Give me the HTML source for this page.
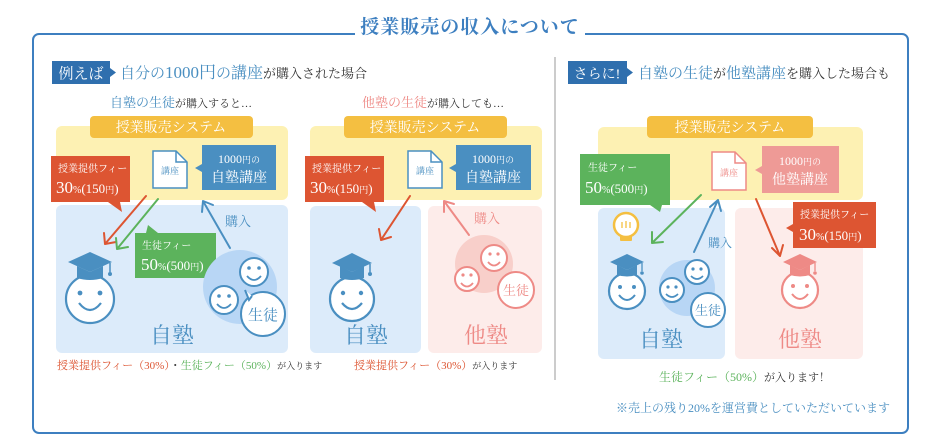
<!DOCTYPE html>
<html><head><meta charset="utf-8"><style>
html,body{margin:0;padding:0;background:#fff;}
svg{display:block;}
text{font-family:"Liberation Serif","Noto Serif CJK SC",serif;}
</style></head><body>
<svg width="940" height="447" viewBox="0 0 940 447" xmlns="http://www.w3.org/2000/svg">
<!-- outer frame -->
<rect x="33" y="34" width="875" height="399" rx="6" fill="#fff" stroke="#3d7fc0" stroke-width="2"/>
<rect x="355" y="14" width="230" height="26" fill="#fff"/>
<text x="470" y="33" text-anchor="middle" font-size="19" font-weight="bold" fill="#3d7fc0" letter-spacing="1">授業販売の収入について</text>
<line x1="555" y1="57" x2="555" y2="380" stroke="#999" stroke-width="1"/>

<!-- header left -->
<path d="M52 61 H110 V68 L116 72.5 L110 77 V84 H52 Z" fill="#2f6fae"/>
<text x="81" y="78.5" text-anchor="middle" font-size="15" fill="#fff">例えば</text>
<text x="120" y="78" font-size="15" fill="#4a8fc1">自分の<tspan font-size="17">1000円</tspan>の<tspan font-size="16">講座</tspan><tspan fill="#333" font-size="13">が購入された場合</tspan></text>
<text x="110" y="107" font-size="13" fill="#4a8fc1">自塾の生徒<tspan fill="#333" font-size="11">が購入すると…</tspan></text>
<text x="362" y="107" font-size="13" fill="#ee8a86">他塾の生徒<tspan fill="#333" font-size="11">が購入しても…</tspan></text>

<!-- header right -->
<path d="M568 61 H627 V68 L633 72.5 L627 77 V84 H568 Z" fill="#2f6fae"/>
<text x="597" y="78.5" text-anchor="middle" font-size="14" fill="#fff">さらに!</text>
<text x="638" y="78" font-size="15" fill="#4a8fc1">自塾の生徒<tspan fill="#333" font-size="13">が</tspan>他塾講座<tspan fill="#333" font-size="13">を購入した場合も</tspan></text>

<!-- ============ PANEL 1 ============ -->
<rect x="56" y="126" width="232" height="74" rx="6" fill="#fdf1b3"/>
<rect x="56" y="205" width="232" height="148" rx="6" fill="#dcebfa"/>
<rect x="90" y="116" width="163" height="22" rx="4" fill="#f4bf41"/>
<text x="171" y="132" text-anchor="middle" font-size="14" fill="#fff">授業販売システム</text>
<path d="M153 151 H176 L187 162 V188 H153 Z" fill="#fff" stroke="#4a8fc1" stroke-width="1.5"/>
<path d="M176 151 V162 H187" fill="none" stroke="#4a8fc1" stroke-width="1.5"/>
<text x="170" y="174" text-anchor="middle" font-size="9" fill="#4a8fc1">講座</text>
<path d="M202 145 H276 V190 H202 V172 L195 168 L202 164 Z" fill="#4a8fc1"/>
<text x="239" y="163" text-anchor="middle" font-size="12" fill="#fff">1000<tspan font-size="9">円の</tspan></text>
<text x="239" y="182" text-anchor="middle" font-size="14" fill="#fff">自塾講座</text>
<path d="M51 156 H130 V202 H120 L122 212 L108 202 H51 Z" fill="#dd5532"/>
<text x="58" y="172" font-size="10" fill="#fff">授業提供フィー</text>
<text x="56" y="193" font-size="17" fill="#fff">30<tspan font-size="10">%</tspan><tspan font-size="13">(150</tspan><tspan font-size="9">円</tspan><tspan font-size="13">)</tspan></text>
<g fill="none" stroke-width="2" stroke-linecap="round" stroke-linejoin="round">
<path d="M146 196 L105 244 M104 233 L105 244 L116 242" stroke="#dd5532"/>
<path d="M158 199 L117 249 M116 238 L117 249 L128 247" stroke="#5cb35c"/>
<path d="M230 248 L203 201 M202 212 L203 201 L213 205" stroke="#4a8fc1"/>
</g>
<text x="225" y="226" font-size="13" fill="#4a8fc1">購入</text>
<path d="M135 233 H146 L148 225 L158 233 H216 V278 H135 Z" fill="#5cb35c"/>
<text x="142" y="249" font-size="10" fill="#fff">生徒フィー</text>
<text x="141" y="270" font-size="17" fill="#fff">50<tspan font-size="10">%</tspan><tspan font-size="13">(500</tspan><tspan font-size="9">円</tspan><tspan font-size="13">)</tspan></text>
<circle cx="90" cy="299" r="24" fill="#fff" stroke="#4a8fc1" stroke-width="2.2"/>
<path d="M68 262 L90 252 L112 262 L90 272 Z" fill="#4a8fc1"/>
<path d="M77 266 V278 Q90 282 103 278 V266 L90 272 Z" fill="#4a8fc1"/>
<path d="M110 263 V272" stroke="#4a8fc1" stroke-width="1.5"/><circle cx="110" cy="274" r="2" fill="#4a8fc1"/>
<circle cx="80" cy="293" r="2.4" fill="#4a8fc1"/><circle cx="100" cy="293" r="2.4" fill="#4a8fc1"/>
<path d="M79 303 Q90 317 101 303" fill="none" stroke="#4a8fc1" stroke-width="2.2"/>
<circle cx="240" cy="287" r="37" fill="#b8d6f5"/>
<g stroke="#4a8fc1" stroke-width="2" fill="#fff">
<circle cx="254" cy="272" r="14"/>
<circle cx="224" cy="300" r="14"/>
<circle cx="263" cy="314" r="22"/>
<path d="M245 290 L249 300 L252 296" />
</g>
<g fill="#4a8fc1"><circle cx="249" cy="268" r="1.8"/><circle cx="259" cy="268" r="1.8"/><circle cx="219" cy="296" r="1.8"/><circle cx="229" cy="296" r="1.8"/></g>
<g fill="none" stroke="#4a8fc1" stroke-width="1.8"><path d="M247 276 Q254 284 261 276"/><path d="M217 304 Q224 312 231 304"/></g>
<text x="263" y="320" text-anchor="middle" font-size="15" fill="#4a8fc1">生徒</text>
<text x="172" y="343" text-anchor="middle" font-size="22" fill="#4a8fc1">自塾</text>
<text x="57" y="369" font-size="11" fill="#dd5532">授業提供フィー（30%）<tspan fill="#333">・</tspan><tspan fill="#5cb35c">生徒フィー（50%）</tspan><tspan fill="#333" font-size="9">が入ります</tspan></text>

<!-- ============ PANEL 2 ============ -->
<rect x="310" y="126" width="232" height="74" rx="6" fill="#fdf1b3"/>
<rect x="310" y="206" width="111" height="147" rx="6" fill="#dcebfa"/>
<rect x="428" y="206" width="114" height="147" rx="6" fill="#fdecea"/>
<rect x="344" y="116" width="163" height="22" rx="4" fill="#f4bf41"/>
<text x="425" y="132" text-anchor="middle" font-size="14" fill="#fff">授業販売システム</text>
<path d="M408 151 H431 L442 162 V188 H408 Z" fill="#fff" stroke="#4a8fc1" stroke-width="1.5"/>
<path d="M431 151 V162 H442" fill="none" stroke="#4a8fc1" stroke-width="1.5"/>
<text x="425" y="174" text-anchor="middle" font-size="9" fill="#4a8fc1">講座</text>
<path d="M456 145 H531 V190 H456 V172 L449 168 L456 164 Z" fill="#4a8fc1"/>
<text x="493" y="163" text-anchor="middle" font-size="12" fill="#fff">1000<tspan font-size="9">円の</tspan></text>
<text x="493" y="182" text-anchor="middle" font-size="14" fill="#fff">自塾講座</text>
<path d="M305 156 H384 V202 H374 L376 212 L362 202 H305 Z" fill="#dd5532"/>
<text x="312" y="172" font-size="10" fill="#fff">授業提供フィー</text>
<text x="310" y="193" font-size="17" fill="#fff">30<tspan font-size="10">%</tspan><tspan font-size="13">(150</tspan><tspan font-size="9">円</tspan><tspan font-size="13">)</tspan></text>
<g fill="none" stroke-width="2" stroke-linecap="round" stroke-linejoin="round">
<path d="M410 196 L381 240 M379 229 L381 240 L391 237" stroke="#dd5532"/>
<path d="M469 235 L444 201 M444 212 L444 201 L454 204" stroke="#ee8a86"/>
</g>
<text x="474" y="223" font-size="13" fill="#ee8a86">購入</text>
<circle cx="352" cy="299" r="22" fill="#fff" stroke="#4a8fc1" stroke-width="2.2"/>
<path d="M332 263 L352 253 L372 263 L352 272 Z" fill="#4a8fc1"/>
<path d="M340 266 V278 Q352 282 364 278 V266 L352 272 Z" fill="#4a8fc1"/>
<path d="M370 264 V272" stroke="#4a8fc1" stroke-width="1.5"/><circle cx="370" cy="274" r="2" fill="#4a8fc1"/>
<circle cx="343" cy="293" r="2.2" fill="#4a8fc1"/><circle cx="361" cy="293" r="2.2" fill="#4a8fc1"/>
<path d="M342 303 Q352 315 362 303" fill="none" stroke="#4a8fc1" stroke-width="2.2"/>
<circle cx="484" cy="264" r="29" fill="#f8cfca"/>
<g stroke="#ee8a86" stroke-width="2" fill="#fff">
<circle cx="494" cy="258" r="13"/>
<circle cx="467" cy="279" r="12"/>
<circle cx="516" cy="290" r="18"/>
</g>
<g fill="#ee8a86"><circle cx="490" cy="254" r="1.6"/><circle cx="498" cy="254" r="1.6"/><circle cx="463" cy="275" r="1.6"/><circle cx="471" cy="275" r="1.6"/></g>
<g fill="none" stroke="#ee8a86" stroke-width="1.8"><path d="M488 262 Q494 269 500 262"/><path d="M461 283 Q467 290 473 283"/></g>
<text x="516" y="295" text-anchor="middle" font-size="13" fill="#ee8a86">生徒</text>
<text x="366" y="343" text-anchor="middle" font-size="22" fill="#4a8fc1">自塾</text>
<text x="486" y="343" text-anchor="middle" font-size="22" fill="#ee8a86">他塾</text>
<text x="354" y="369" font-size="11" fill="#dd5532">授業提供フィー（30%）<tspan fill="#333" font-size="9">が入ります</tspan></text>

<!-- ============ PANEL 3 ============ -->
<rect x="598" y="127" width="265" height="73" rx="6" fill="#fdf1b3"/>
<rect x="598" y="208" width="127" height="151" rx="6" fill="#dcebfa"/>
<rect x="735" y="208" width="128" height="151" rx="6" fill="#fdecea"/>
<rect x="647" y="116" width="166" height="22" rx="4" fill="#f4bf41"/>
<text x="730" y="132" text-anchor="middle" font-size="14" fill="#fff">授業販売システム</text>
<path d="M712 152 H735 L746 163 V190 H712 Z" fill="#fff" stroke="#ee8a86" stroke-width="1.5"/>
<path d="M735 152 V163 H746" fill="none" stroke="#ee8a86" stroke-width="1.5"/>
<text x="729" y="176" text-anchor="middle" font-size="9" fill="#ee8a86">講座</text>
<path d="M762 146 H839 V193 H762 V174 L755 170 L762 166 Z" fill="#ee9a96"/>
<text x="800" y="165" text-anchor="middle" font-size="12" fill="#fff">1000<tspan font-size="9">円の</tspan></text>
<text x="800" y="184" text-anchor="middle" font-size="14" fill="#fff">他塾講座</text>
<path d="M580 154 H670 V205 H662 L660 212 L650 205 H580 Z" fill="#5cb35c"/>
<text x="588" y="171" font-size="10" fill="#fff">生徒フィー</text>
<text x="585" y="193" font-size="17" fill="#fff">50<tspan font-size="10">%</tspan><tspan font-size="13">(500</tspan><tspan font-size="9">円</tspan><tspan font-size="13">)</tspan></text>
<path d="M793 202 H876 V248 H793 V232 L786 228 L793 224 Z" fill="#dd5532"/>
<text x="800" y="218" font-size="10" fill="#fff">授業提供フィー</text>
<text x="799" y="240" font-size="17" fill="#fff">30<tspan font-size="10">%</tspan><tspan font-size="13">(150</tspan><tspan font-size="9">円</tspan><tspan font-size="13">)</tspan></text>
<g fill="none" stroke-width="2" stroke-linecap="round" stroke-linejoin="round">
<path d="M701 195 L652 243 M652 232 L652 243 L663 242" stroke="#5cb35c"/>
<path d="M694 252 L718 200 M710 207 L718 200 L721 211" stroke="#4a8fc1"/>
<path d="M756 199 L780 256 M772 248 L780 256 L783 245" stroke="#dd5532"/>
</g>
<text x="708" y="247" font-size="12" fill="#4a8fc1">購入</text>
<circle cx="626" cy="225" r="12" fill="#fff" stroke="#f4bf41" stroke-width="2.5"/>
<rect x="620" y="236" width="12" height="5" rx="1" fill="#f4bf41"/>
<path d="M622 228 V222 M626 228 V221 M630 228 V222" stroke="#f4bf41" stroke-width="1.3" fill="none"/>
<circle cx="627" cy="291" r="18" fill="#fff" stroke="#4a8fc1" stroke-width="2.2"/>
<path d="M610 262 L627 254 L644 262 L627 270 Z" fill="#4a8fc1"/>
<path d="M617 265 V275 Q627 278 637 275 V265 L627 270 Z" fill="#4a8fc1"/>
<path d="M642 263 V271" stroke="#4a8fc1" stroke-width="1.3"/><circle cx="642" cy="273" r="1.8" fill="#4a8fc1"/>
<circle cx="620" cy="287" r="2" fill="#4a8fc1"/><circle cx="634" cy="287" r="2" fill="#4a8fc1"/>
<path d="M619 295 Q627 305 635 295" fill="none" stroke="#4a8fc1" stroke-width="2"/>
<circle cx="687" cy="288" r="28" fill="#b8d6f5"/>
<g stroke="#4a8fc1" stroke-width="2" fill="#fff">
<circle cx="697" cy="272" r="12"/>
<circle cx="672" cy="290" r="12"/>
<circle cx="708" cy="310" r="17"/>
</g>
<g fill="#4a8fc1"><circle cx="693" cy="269" r="1.6"/><circle cx="701" cy="269" r="1.6"/><circle cx="668" cy="287" r="1.6"/><circle cx="676" cy="287" r="1.6"/></g>
<g fill="none" stroke="#4a8fc1" stroke-width="1.7"><path d="M691 276 Q697 282 703 276"/><path d="M666 294 Q672 300 678 294"/></g>
<text x="708" y="315" text-anchor="middle" font-size="13" fill="#4a8fc1">生徒</text>
<circle cx="800" cy="290" r="18" fill="#fff" stroke="#ee8a86" stroke-width="2.2"/>
<path d="M783 262 L800 254 L817 262 L800 270 Z" fill="#ee8a86"/>
<path d="M790 265 V275 Q800 278 810 275 V265 L800 270 Z" fill="#ee8a86"/>
<path d="M815 263 V271" stroke="#ee8a86" stroke-width="1.3"/><circle cx="815" cy="273" r="1.8" fill="#ee8a86"/>
<circle cx="793" cy="286" r="2" fill="#ee8a86"/><circle cx="807" cy="286" r="2" fill="#ee8a86"/>
<path d="M792 294 Q800 304 808 294" fill="none" stroke="#ee8a86" stroke-width="2"/>
<text x="661" y="347" text-anchor="middle" font-size="22" fill="#4a8fc1">自塾</text>
<text x="800" y="347" text-anchor="middle" font-size="22" fill="#ee8a86">他塾</text>
<text x="659" y="381" font-size="12" fill="#5cb35c">生徒フィー（50%）<tspan fill="#333" font-size="11">が入ります！</tspan></text>
<text x="890" y="412" text-anchor="end" font-size="12" fill="#4a8fc1">※売上の残り20%を運営費としていただいています</text>
</svg>
</body></html>
